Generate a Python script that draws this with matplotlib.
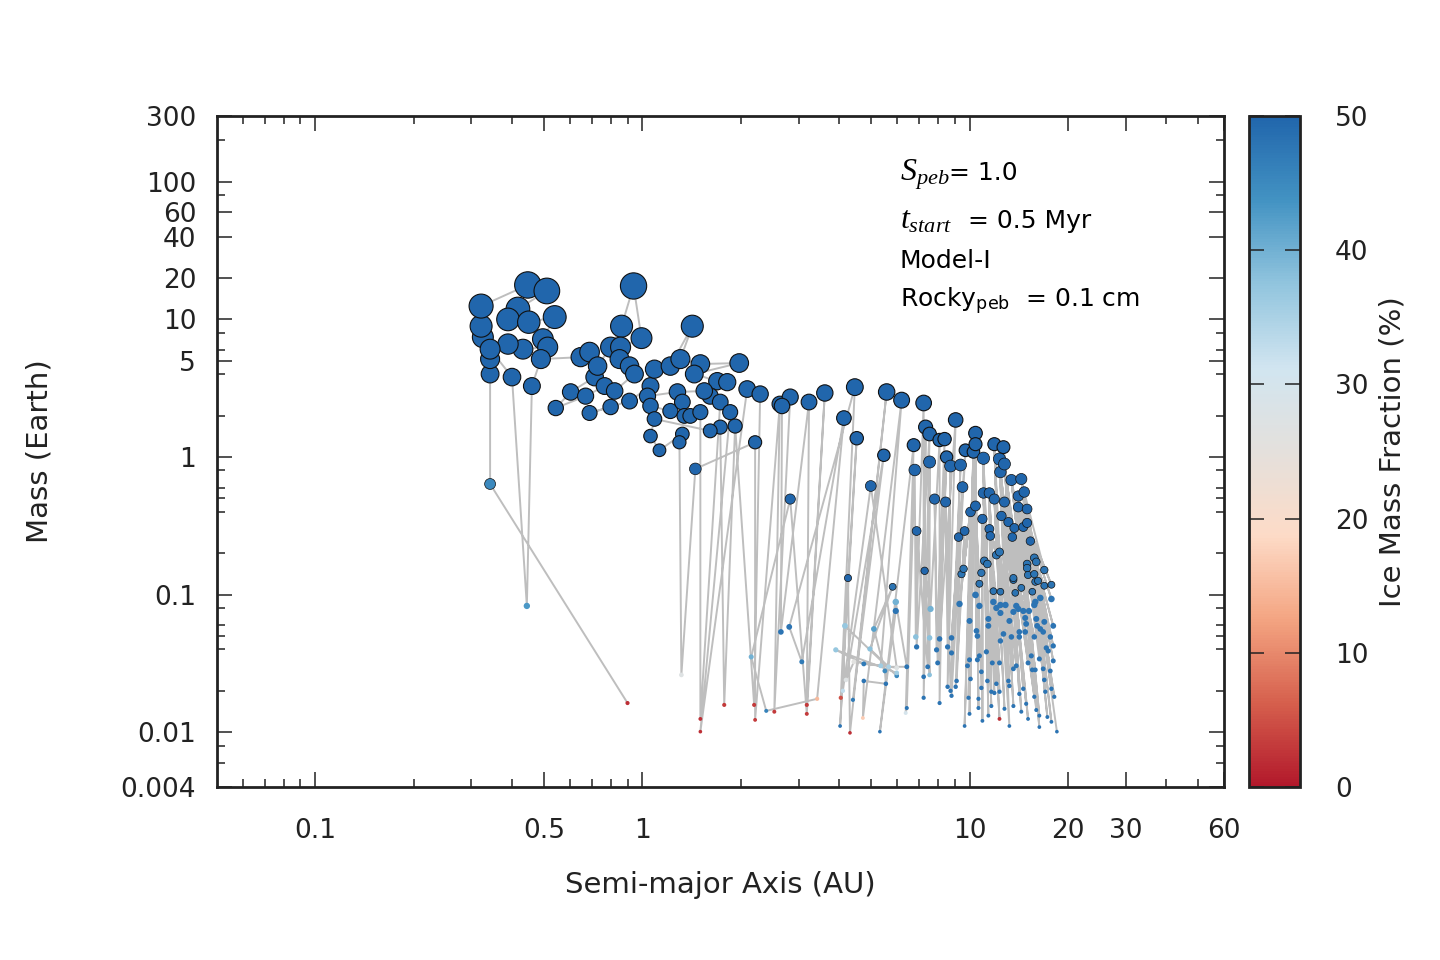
import matplotlib
matplotlib.use("Agg")
import matplotlib.pyplot as plt
from matplotlib.colors import LinearSegmentedColormap, Normalize
from matplotlib.cm import ScalarMappable
from matplotlib.ticker import NullFormatter
import numpy as np

plt.rcParams['font.family'] = ['DejaVu Sans']
plt.rcParams['mathtext.fontset'] = 'custom'
plt.rcParams['mathtext.it'] = 'Liberation Serif:italic'
plt.rcParams['mathtext.rm'] = 'DejaVu Sans'

# ---- inner planets (< 3 AU), listed in the order the track line joins them
# semi-major axis (AU), mass (Earth), ice mass fraction (%)
a_inner = [0.900, 0.342, 0.342, 0.342, 0.325, 0.321, 0.321, 0.446, 0.510, 0.416,
           0.388, 0.449, 0.539, 0.496, 0.513, 0.431, 0.388, 0.342, 0.399, 0.443,
           0.459, 0.489, 0.647, 0.689, 0.714, 0.603, 0.543, 0.670, 0.766, 0.729,
           0.799, 0.863, 0.939, 0.993, 0.857, 0.851, 0.913, 0.945, 0.822, 0.799,
           0.689, 0.913, 1.058, 1.088, 1.217, 1.420, 1.306, 1.503, 1.976, 1.440,
           1.693, 1.816, 1.611, 1.545, 1.279, 1.036, 1.058, 1.217, 1.324, 1.343,
           1.400, 1.503, 1.503, 1.729, 1.854, 1.503, 2.09, 2.29, 2.195, 1.92,
           1.778, 1.729, 1.611, 1.088, 1.058, 1.127, 1.324, 1.297, 1.315, 1.451,
           2.21, 2.21, 2.63, 2.53, 2.83]
m_inner = [0.0163, 0.637, 4.01, 5.15, 7.43, 8.93, 12.5, 17.8, 16.1, 11.9,
           10.0, 9.55, 10.4, 7.19, 6.29, 6.08, 6.62, 6.08, 3.81, 0.0828,
           3.28, 5.15, 5.32, 5.79, 3.81, 2.97, 2.27, 2.77, 3.28, 4.58,
           6.29, 8.93, 17.5, 7.31, 6.29, 5.15, 4.58, 4.01, 3.02, 2.31,
           2.09, 2.55, 3.28, 4.35, 4.58, 8.93, 5.15, 4.74, 4.82, 4.01,
           3.56, 3.50, 2.77, 3.02, 2.97, 2.77, 2.35, 2.16, 2.51, 1.99,
           1.99, 2.12, 0.0125, 2.51, 2.12, 0.0101, 3.12, 2.87, 0.0158, 1.68,
           0.0158, 1.65, 1.55, 1.89, 1.42, 1.12, 1.47, 1.28, 0.0261, 0.82,
           1.28, 0.0123, 2.43, 0.0141, 2.73]
ice_inner = [2, 45, 50, 50, 50, 50, 50, 50, 50, 50,
             50, 50, 50, 50, 50, 50, 50, 50, 50, 43,
             50, 50, 50, 50, 50, 50, 50, 50, 50, 50,
             50, 50, 50, 50, 50, 50, 50, 50, 50, 50,
             50, 50, 50, 50, 50, 50, 50, 50, 50, 50,
             50, 50, 50, 50, 50, 50, 50, 50, 50, 50,
             50, 50, 2, 50, 50, 2, 50, 50, 3, 50,
             3, 50, 50, 50, 50, 50, 50, 50, 27, 50,
             50, 3, 50, 3, 50]

# ---- middle zone (2 - 10 AU), in track order
a_mid = [2.67, 2.65, 3.23, 3.18, 3.61, 3.18, 2.83, 2.15, 2.39, 3.42,
         4.13, 3.07, 2.81, 4.46, 4.04, 4.52, 4.02, 4.25, 4.31, 5.58,
         4.40, 5.47, 4.19, 4.43, 5.99, 4.99, 4.10, 4.16, 5.99, 5.99,
         3.90, 4.75, 5.35, 6.20, 4.72, 4.75, 5.55, 5.51, 5.10, 5.82,
         4.96, 5.66, 6.43, 5.95, 5.95, 5.32, 6.75, 6.38, 6.43, 6.80,
         6.85, 7.24, 7.24, 7.34, 7.24, 7.55, 6.89, 6.89, 7.45, 7.55,
         7.55, 7.55, 7.29, 7.60, 8.10, 8.10, 8.39, 7.93, 7.82, 7.99,
         8.51, 8.10, 9.07, 8.57, 8.75, 8.57, 8.45, 8.75, 9.39, 8.81,
         9.72, 8.81, 9.26, 8.81, 9.52, 9.07, 9.66, 9.13]
m_mid = [2.35, 0.0536, 2.51, 0.0158, 2.92, 0.0136, 0.495, 0.0353, 0.0143, 0.0175,
         1.92, 0.0325, 0.0583, 3.22, 0.0178, 1.37, 0.0111, 0.132, 0.0099, 2.97,
         0.0172, 1.03, 0.024, 0.0325, 0.0294, 0.616, 0.020, 0.0593, 0.0257, 0.027,
         0.0397, 0.0314, 0.0304, 2.59, 0.0127, 0.0236, 0.0225, 0.0279, 0.0563, 0.114,
         0.0403, 0.0299, 0.0299, 0.0885, 0.0761, 0.0101, 1.22, 0.0138, 0.015, 0.805,
         0.0493, 2.47, 0.0253, 1.65, 0.0178, 1.47, 0.0417, 0.29, 0.0299, 0.92,
         0.0485, 0.0261, 0.149, 0.0787, 1.33, 0.0163, 1.35, 0.0397, 0.495, 0.0319,
         1.0, 0.0477, 1.86, 0.0214, 0.86, 0.0417, 0.471, 0.020, 0.875, 0.0184,
         1.12, 0.0485, 0.262, 0.0377, 0.605, 0.0214, 0.29, 0.0236]
ice_mid = [50, 48, 50, 3, 50, 3, 50, 40, 46, 15,
           50, 47, 48, 50, 5, 50, 48, 50, 2, 50,
           47, 50, 27, 26, 27, 50, 33, 37, 45, 36,
           37, 47, 36, 50, 17, 48, 48, 45, 42, 48,
           38, 35, 48, 40, 48, 48, 50, 30, 48, 50,
           38, 50, 48, 50, 48, 50, 48, 50, 48, 50,
           38, 38, 50, 40, 50, 48, 50, 48, 50, 48,
           50, 48, 50, 48, 50, 48, 50, 48, 50, 48,
           50, 48, 50, 48, 50, 48, 50, 48]

# ---- outer zone (10 - 19 AU): upper planets, mid-mass and low-mass embryos
a_top = [10.07, 10.28, 10.43, 10.43, 10.43, 10.95, 11.03, 11.03, 11.5, 11.5,
         11.58, 11.91, 11.91, 12.35, 12.43, 12.52, 12.7, 12.79, 12.79, 13.15,
         13.43, 13.52, 13.71, 14.1, 14.1, 14.4, 14.6, 14.7, 15.0, 15.0, 15.35]
m_top = [0.399, 1.09, 1.49, 1.24, 0.441, 0.355, 0.98, 0.548, 0.548, 0.30,
         0.267, 1.24, 0.495, 0.967, 0.778, 0.373, 1.18, 0.89, 0.471, 0.337,
         0.681, 0.262, 0.305, 0.433, 0.521, 0.692, 0.31, 0.557, 0.419, 0.332, 0.245]

a_emb = [9.32, 9.45, 9.59, 10.0, 10.43, 10.5, 10.57, 10.72, 10.72, 10.87,
         11.1, 11.34, 11.42, 11.42, 11.83, 11.83, 12.08, 12.08, 12.35, 12.43,
         12.43, 12.43, 12.43, 12.7, 12.88, 13.24, 13.43, 13.62, 13.62, 13.62,
         13.8, 13.9, 14.1, 14.2, 14.2, 14.4, 14.6, 14.8, 14.8, 14.9,
         15.0, 15.0, 15.1, 15.2, 15.56, 15.78, 15.78, 15.78, 15.78, 15.89,
         15.89, 16.0, 16.0, 16.1, 16.2, 16.46, 16.46, 16.8, 16.93, 16.93,
         16.93, 17.17, 17.4, 17.66, 17.8, 17.8, 18.03, 18.03]
m_emb = [0.0856, 0.141, 0.154, 0.0644, 0.0995, 0.0545, 0.050, 0.0828, 0.12, 0.144,
         0.176, 0.167, 0.0666, 0.0593, 0.106, 0.0885, 0.194, 0.080, 0.204, 0.0841,
         0.105, 0.0736, 0.0461, 0.0518, 0.0841, 0.0644, 0.0493, 0.0749, 0.128, 0.132,
         0.103, 0.0828, 0.0787, 0.0536, 0.0493, 0.112, 0.0761, 0.0677, 0.0536, 0.0613,
         0.167, 0.156, 0.139, 0.0761, 0.105, 0.185, 0.141, 0.0841, 0.0493, 0.0885,
         0.124, 0.173, 0.0666, 0.0593, 0.126, 0.0946, 0.0563, 0.0536, 0.151, 0.0634,
         0.116, 0.041, 0.039, 0.0493, 0.118, 0.093, 0.0593, 0.0424]

a_low = [9.66, 9.86, 9.93, 10.0, 10.0, 10.07, 10.57, 10.65, 10.65, 10.72,
         10.87, 10.87, 10.95, 11.26, 11.34, 11.42, 11.66, 11.66, 11.74, 11.91,
         12.08, 12.35, 12.35, 12.35, 12.79, 13.15, 13.24, 13.24, 13.62, 13.62,
         13.9, 14.2, 14.4, 14.6, 14.9, 15.1, 15.1, 15.45, 15.56, 15.78,
         15.89, 16.0, 16.35, 16.35, 16.35, 16.8, 16.93, 17.05, 17.3, 17.66,
         17.8, 17.8, 18.03, 18.16, 18.5]
m_low = [0.0111, 0.0304, 0.0178, 0.0136, 0.0336, 0.0244, 0.0336, 0.0175, 0.015, 0.0359,
         0.021, 0.0275, 0.0121, 0.0384, 0.0236, 0.0132, 0.0155, 0.0197, 0.0319, 0.0193,
         0.0225, 0.0125, 0.0319, 0.0197, 0.0148, 0.0236, 0.0111, 0.0217, 0.0155, 0.0289,
         0.0304, 0.019, 0.0141, 0.0207, 0.0161, 0.0125, 0.0319, 0.0359, 0.0284, 0.0181,
         0.0284, 0.0145, 0.0109, 0.0132, 0.0341, 0.0289, 0.024, 0.0197, 0.0129, 0.0279,
         0.0119, 0.0207, 0.033, 0.0181, 0.0101]
ice_low = [48, 48, 48, 48, 48, 48, 48, 48, 48, 48,
           48, 48, 48, 48, 48, 48, 48, 48, 48, 48,
           48, 2, 48, 48, 48, 48, 48, 48, 48, 48,
           48, 48, 48, 48, 48, 48, 48, 48, 48, 48,
           48, 48, 48, 48, 48, 48, 48, 48, 48, 48,
           48, 48, 48, 48, 48]
ice_top = [50] * len(a_top)
ice_emb = [48] * len(a_emb)

# ---- colour map: 9-class RdBu with a grey middle
cmap = LinearSegmentedColormap.from_list(
    "icefrac", ["#b2182b", "#d6604d", "#f4a582", "#fddbc7", "#e4e0dc",
                "#d1e5f0", "#92c5de", "#4393c3", "#2166ac"])
norm = Normalize(vmin=0, vmax=50)

fig = plt.figure(figsize=(14.4, 9.6), dpi=100)
ax = fig.add_axes([0.1507, 0.1802, 0.6993, 0.6988])
cax = fig.add_axes([0.8674, 0.1802, 0.0354, 0.6988])

line_kw = dict(color="#bebebe", lw=1.4, zorder=1)
ax.plot(a_inner, m_inner, **line_kw)
ax.plot(a_mid, m_mid, **line_kw)

# outer zone: track zig-zags between upper planets and the embryos below
lo = sorted(zip(a_low + a_emb, m_low + m_emb))
hi = list(zip(a_top, m_top))
path_a, path_m = [], []
for k, (al, ml) in enumerate(lo):
    ah, mh = hi[k * len(hi) // len(lo)]
    path_a += [ah, al]
    path_m += [mh, ml]
ax.plot(path_a, path_m, **line_kw)

a_all = np.array(a_inner + a_mid + a_top + a_emb + a_low)
m_all = np.array(m_inner + m_mid + m_top + m_emb + m_low)
ice_all = np.array(ice_inner + ice_mid + ice_top + ice_emb + ice_low)

d_px = 12.3 * m_all ** 0.265
sizes = (d_px * 0.72) ** 2
lws = np.where(m_all >= 1.0, 0.8, np.where(m_all >= 0.1, 0.5, 0.0))
ax.scatter(a_all, m_all, s=sizes, c=ice_all, cmap=cmap, norm=norm,
           edgecolors="#111111", linewidths=lws, zorder=2)

ax.set_xscale("log")
ax.set_yscale("log")
ax.set_xlim(0.05, 60)
ax.set_ylim(0.004, 300)

ax.set_xticks([0.1, 0.5, 1, 10, 20, 30, 60])
ax.set_xticklabels(["0.1", "0.5", "1", "10", "20", "30", "60"])
ax.set_xticks([0.06, 0.07, 0.08, 0.09, 0.2, 0.3, 0.4, 0.6, 0.7, 0.8, 0.9,
               2, 3, 4, 5, 6, 7, 8, 9, 40, 50], minor=True)
ax.xaxis.set_minor_formatter(NullFormatter())
ax.set_yticks([0.004, 0.01, 0.1, 1, 5, 10, 20, 40, 60, 100, 300])
ax.set_yticklabels(["0.004", "0.01", "0.1", "1", "5", "10", "20", "40", "60", "100", "300"])
ax.set_yticks([0.006, 0.008, 0.02, 0.04, 0.05, 0.06, 0.08, 0.2, 0.4, 0.5, 0.6, 0.8,
               2, 4, 6, 8, 80, 200], minor=True)
ax.yaxis.set_minor_formatter(NullFormatter())

ax.tick_params(which="both", direction="in", top=True, right=True,
               width=1.1, color="#222222", labelcolor="#222222", labelsize=19)
ax.tick_params(which="major", length=10.8)
ax.tick_params(which="minor", length=5.5)
ax.tick_params(axis="x", pad=22)
ax.tick_params(axis="y", pad=15)
for sp in ax.spines.values():
    sp.set_linewidth(2)
    sp.set_color("#222222")

ax.set_xlabel("Semi-major Axis (AU)", fontsize=21, color="#222222", va="center")
ax.xaxis.set_label_coords(0.4995, -0.146)
ax.set_ylabel("Mass (Earth)", fontsize=21, color="#222222", va="center")
ax.yaxis.set_label_coords(-0.176, 0.5)

# parameter box: italic symbol drawn larger, value text placed right after it
fig.canvas.draw()
note_x = 0.678
for sym, rest, y in [(r"$S_{peb}$", "= 1.0", 0.9046),
                     (r"$t_{start}$", "  = 0.5 Myr", 0.833)]:
    t1 = ax.text(note_x, y, sym, transform=ax.transAxes, fontsize=23,
                 color="black", va="baseline")
    bb = t1.get_window_extent(renderer=fig.canvas.get_renderer())
    x_next = ax.transAxes.inverted().transform((bb.x1, bb.y0))[0]
    ax.text(x_next, y, rest, transform=ax.transAxes, fontsize=18,
            color="black", va="baseline")
ax.text(note_x, 0.7735, "Model-I", transform=ax.transAxes, fontsize=18,
        color="black", va="baseline")
ax.text(note_x, 0.7154, r"Rocky$_{\mathrm{peb}}$  = 0.1 cm", transform=ax.transAxes,
        fontsize=18, color="black", va="baseline")

sm = ScalarMappable(norm=norm, cmap=cmap)
cb = fig.colorbar(sm, cax=cax, ticks=[0, 10, 20, 30, 40, 50])
cb.outline.set_linewidth(2)
cb.outline.set_edgecolor("#222222")
cax.tick_params(direction="in", left=True, right=True, length=10.8, width=1.1,
                color="#222222", labelcolor="#222222", labelsize=19, pad=25)
cb.set_label("Ice Mass Fraction (%)", fontsize=21, color="#222222", va="center")
cax.yaxis.set_label_coords(2.82, 0.5)

fig.savefig("out.png", dpi=100)
